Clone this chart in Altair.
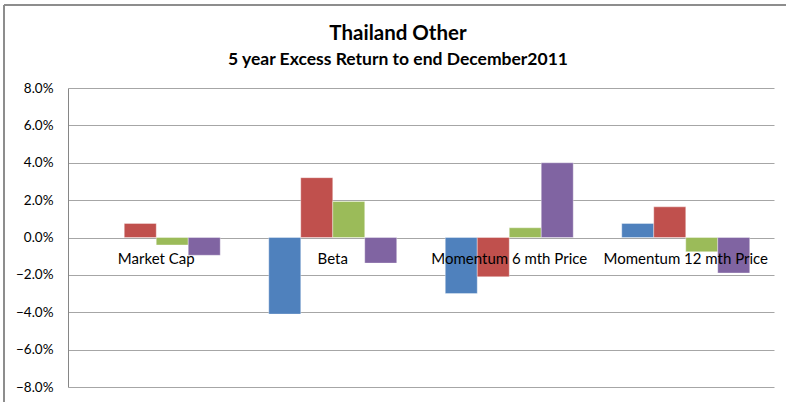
import altair as alt
import pandas as pd

categories = ["Market Cap", "Beta", "Momentum 6 mth Price", "Momentum 12 mth Price"]
series_names = ["Series 1", "Series 2", "Series 3", "Series 4"]
series_colors = ["#4F81BD", "#C0504D", "#9BBB59", "#8064A2"]
s1 = [0.000, -0.041, -0.030, 0.0075]
s2 = [0.0075, 0.032, -0.021, 0.0164]
s3 = [-0.004, 0.0193, 0.0052, -0.0076]
s4 = [-0.0095, -0.0137, 0.040, -0.019]
y_ticks = [-0.08, -0.06, -0.04, -0.02, 0.0, 0.02, 0.04, 0.06, 0.08]
title_text = "Thailand Other"
subtitle_text = "5 year Excess Return to end December2011"

rows = []
for name, vals in zip(series_names, [s1, s2, s3, s4]):
    for c, v in zip(categories, vals):
        rows.append({"category": c, "series": name, "value": v})
df = pd.DataFrame(rows)
lab = pd.DataFrame({"category": categories, "value": [0.0] * len(categories)})
ttl = pd.DataFrame({"t": [title_text]})
sub = pd.DataFrame({"t": [subtitle_text]})

FONT = "Lato"
W, H = 706, 299

xscale = alt.Scale(domain=categories, paddingInner=0.275, paddingOuter=0.1375)
yaxis = alt.Axis(values=y_ticks, format=".1%", title=None, grid=True, labelOverlap=False,
                 gridColor="#A6A6A6", gridWidth=1, domainColor="#868686",
                 ticks=False, labelPadding=15, labelFont=FONT, labelFontSize=13.5,
                 labelColor="#000000")
yscale = alt.Scale(domain=[-0.08, 0.08], nice=False)

bars = alt.Chart(df).mark_bar(stroke="white", strokeWidth=0.6, strokeOpacity=0.6).encode(
    x=alt.X("category:N", sort=categories, scale=xscale, axis=None),
    xOffset=alt.XOffset("series:N", sort=series_names, scale=alt.Scale(paddingInner=0, paddingOuter=0)),
    y=alt.Y("value:Q", scale=yscale, axis=yaxis),
    color=alt.Color("series:N", sort=series_names,
                    scale=alt.Scale(domain=series_names, range=series_colors), legend=None),
)

texts = alt.Chart(lab).mark_text(font=FONT, fontSize=15, color="#000000", dy=21,
                                 baseline="middle", align="center").encode(
    x=alt.X("category:N", sort=categories, scale=xscale, axis=None),
    y=alt.Y("value:Q", scale=yscale, axis=yaxis),
    text="category:N",
)

title_mark = alt.Chart(ttl).mark_text(font=FONT, fontSize=20.5, fontWeight="bold", color="#000000",
                                      align="center", baseline="middle").encode(
    x=alt.value(330), y=alt.value(-54), text="t:N")
sub_mark = alt.Chart(sub).mark_text(font=FONT, fontSize=17.5, fontWeight="bold", color="#000000",
                                    align="center", baseline="middle").encode(
    x=alt.value(330), y=alt.value(-28), text="t:N")

border_left = alt.Chart(lab).mark_rule(color="#8C8C8C", strokeWidth=1.5).encode(
    x=alt.value(-64), y=alt.value(-83), y2=alt.value(320))
border_top = alt.Chart(lab).mark_rule(color="#8C8C8C", strokeWidth=1.5).encode(
    x=alt.value(-64), x2=alt.value(730), y=alt.value(-83))

chart = alt.layer(bars, texts, title_mark, sub_mark, border_left, border_top).properties(
    width=W, height=H,
    background="white",
    autosize=alt.AutoSizeParams(type="none"),
    padding={"left": 68, "top": 88, "right": 12, "bottom": 15},
).configure_view(stroke=None, strokeWidth=0)

chart.save("out.html", embed_options={"renderer": "svg", "actions": False})
